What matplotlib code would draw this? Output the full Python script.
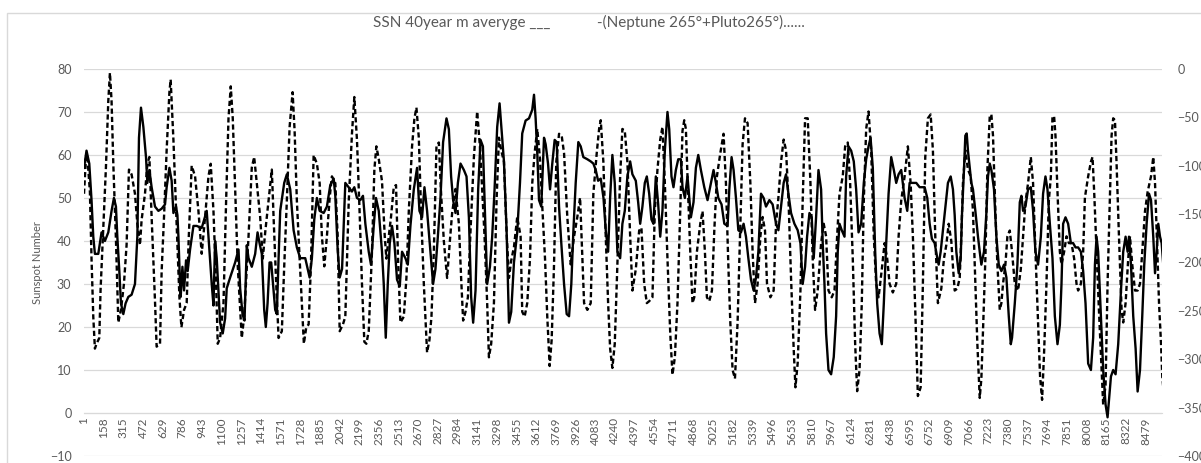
import matplotlib
matplotlib.use("Agg")
import matplotlib.pyplot as plt
from matplotlib.patches import Rectangle

plt.rcParams['font.family'] = ['Lato', 'DejaVu Sans']

# SSN 40 year moving average (left axis) as (category, value)
ssn_x = [1, 21, 43, 61, 75, 88, 115, 141, 168, 195, 221, 240, 256, 267, 283, 296, 315, 333, 355, 381,
         408, 427, 440, 456, 475, 496, 507, 523, 541, 568, 595, 621, 648, 661, 683, 701, 715, 736, 747, 755,
         768, 773, 787, 800, 816, 829, 848, 875, 901, 941, 981, 1021, 1035, 1048, 1061, 1088, 1109, 1128, 1141, 1168,
         1208, 1235, 1248, 1267, 1283, 1301, 1315, 1341, 1368, 1387, 1403, 1421, 1440, 1453, 1467, 1483, 1496, 1515, 1528, 1541,
         1555, 1568, 1600, 1621, 1648, 1675, 1701, 1728, 1768, 1803, 1821, 1840, 1861, 1883, 1915, 1941, 1968, 1995, 2008, 2027,
         2043, 2062, 2088, 2115, 2141, 2160, 2181, 2208, 2229, 2248, 2275, 2293, 2315, 2333, 2355, 2381, 2395, 2411, 2427, 2443,
         2461, 2480, 2501, 2523, 2541, 2568, 2587, 2608, 2635, 2661, 2680, 2701, 2720, 2741, 2768, 2789, 2808, 2827, 2848, 2869,
         2896, 2915, 2933, 2949, 2968, 2987, 3008, 3035, 3056, 3075, 3093, 3109, 3128, 3149, 3168, 3187, 3203, 3221, 3243, 3261,
         3280, 3301, 3320, 3333, 3355, 3376, 3395, 3413, 3435, 3461, 3483, 3501, 3528, 3555, 3581, 3595, 3608, 3621, 3635, 3653,
         3675, 3688, 3707, 3723, 3741, 3760, 3776, 3795, 3813, 3835, 3856, 3875, 3893, 3909, 3928, 3949, 3968, 3989, 4021, 4048,
         4069, 4088, 4107, 4128, 4150, 4168, 4187, 4203, 4221, 4240, 4261, 4283, 4301, 4320, 4341, 4363, 4381, 4408, 4427, 4443,
         4461, 4480, 4496, 4515, 4533, 4549, 4568, 4587, 4603, 4621, 4640, 4661, 4675, 4693, 4709, 4728, 4747, 4768, 4781, 4800,
         4821, 4848, 4869, 4888, 4907, 4928, 4955, 4981, 5008, 5029, 5048, 5067, 5093, 5115, 5141, 5155, 5173, 5189, 5208, 5227,
         5248, 5269, 5288, 5307, 5328, 5349, 5368, 5387, 5408, 5429, 5448, 5475, 5501, 5528, 5547, 5568, 5589, 5608, 5627, 5648,
         5675, 5701, 5723, 5741, 5760, 5776, 5795, 5813, 5829, 5848, 5867, 5888, 5901, 5915, 5928, 5947, 5968, 5989, 6008, 6021,
         6035, 6053, 6075, 6088, 6107, 6128, 6149, 6168, 6187, 6208, 6229, 6248, 6267, 6283, 6301, 6320, 6336, 6355, 6373, 6389,
         6408, 6427, 6448, 6469, 6488, 6507, 6528, 6555, 6576, 6595, 6621, 6648, 6675, 6715, 6736, 6755, 6773, 6795, 6816, 6827,
         6843, 6861, 6880, 6901, 6923, 6941, 6955, 6968, 6987, 7003, 7013, 7029, 7040, 7051, 7061, 7075, 7088, 7101, 7120, 7141,
         7155, 7168, 7189, 7208, 7221, 7235, 7248, 7269, 7288, 7307, 7328, 7349, 7368, 7387, 7403, 7413, 7435, 7456, 7475, 7488,
         7501, 7520, 7541, 7563, 7581, 7600, 7621, 7643, 7661, 7680, 7696, 7715, 7736, 7755, 7776, 7795, 7808, 7821, 7840, 7861,
         7883, 7901, 7920, 7941, 7963, 7981, 8000, 8021, 8043, 8061, 8075, 8088, 8101, 8123, 8141, 8160, 8176, 8187, 8203, 8221,
         8240, 8261, 8283, 8301, 8320, 8336, 8347, 8363, 8381, 8400, 8416, 8435, 8453, 8469, 8488, 8507, 8523, 8541, 8555, 8568,
         8581, 8595, 8608, 8621]
ssn_y = [57, 61, 58, 49.5, 41, 37, 37, 42, 40, 42, 47, 50, 48, 41, 33, 25.5, 23, 25.5, 27, 27.5,
         30, 41, 64, 71, 66.5, 59.5, 53.5, 56.5, 52.5, 48, 47, 47.5, 48.5, 52.5, 57, 54, 46.5, 48, 46, 41,
         30, 27, 34, 28.5, 35.5, 33, 38, 43.5, 43.5, 43, 47, 30, 25, 40, 36, 21, 18.5, 22, 29, 31.5,
         35, 38, 29, 23, 21.5, 39, 36, 34, 37, 42, 39.5, 37, 24, 20, 25.5, 35, 35, 28.5, 24, 23,
         36, 47, 53.5, 55.5, 52, 42.5, 38.5, 36, 36, 31.5, 36, 45, 50, 47, 46.5, 48, 53, 54.5, 50.5, 38,
         31.5, 33.5, 53.5, 52.5, 51.5, 52.5, 50, 49.5, 50.5, 44, 37.5, 34.5, 43.5, 50, 47, 37.5, 30, 17.5, 30, 39.5,
         43.5, 39.5, 31, 29.5, 37.5, 36, 34.5, 43.5, 52, 57, 47, 45.5, 52.5, 47, 37.5, 30, 33.5, 41, 50, 63,
         68.5, 66, 55, 49.5, 46.5, 53.5, 58, 56.5, 55, 45.5, 27, 21, 28.5, 52, 63.5, 62, 47, 30, 34, 41,
         52, 66.5, 72, 67, 58.5, 42.5, 21, 23.5, 35, 42, 53.5, 65, 68, 68.5, 70.5, 74, 68.5, 60.5, 49.5, 48,
         64, 62.5, 58, 52, 58, 63.5, 63, 48, 39.5, 30, 23, 22.5, 30, 42, 53.5, 63, 62, 59.5, 59, 58.5,
         58, 56.5, 54, 54.5, 50, 42.5, 37.5, 50, 60, 53.5, 37.5, 36, 44, 47, 55, 58.5, 55.5, 54, 49, 44,
         48, 53.5, 55, 51, 45, 44, 55, 48.5, 41, 47, 61, 70, 66, 55, 52.5, 56.5, 59, 59, 52.5, 50,
         55, 45.5, 49, 57, 60, 56.5, 52.5, 49.5, 53.5, 56.5, 53.5, 50, 48.5, 44, 43.5, 52, 59.5, 56.5, 50, 42.5,
         42, 44, 41, 36, 31, 28.5, 31.5, 37.5, 51, 50, 48, 49.5, 48.5, 44, 42.5, 48, 53.5, 55.5, 51, 46.5,
         44, 42.5, 39.5, 30, 34, 41, 46.5, 45.5, 36, 45.5, 56.5, 52, 39.5, 30, 18.5, 10, 9, 13, 22.5, 37.5,
         44, 42.5, 41, 55, 62, 61, 58.5, 52, 42, 44, 53.5, 59, 62, 64, 57, 37.5, 25.5, 18.5, 16, 25.5,
         39.5, 51, 59.5, 56.5, 53.5, 55.5, 56.5, 50, 47, 53.5, 53.5, 53.5, 52.5, 52.5, 50, 44, 40.5, 39.5, 36, 34.5,
         37.5, 42.5, 48, 53.5, 55, 52, 46, 37.5, 32.5, 36, 46, 56.5, 64.5, 65, 61, 57, 53.5, 52, 47, 41,
         37.5, 34.5, 37.5, 46.5, 55, 58, 56.5, 52, 41, 34.5, 33, 34.5, 31.5, 22.5, 16, 17.5, 25.5, 34.5, 49, 50.5,
         47, 48, 52, 52.5, 47, 37.5, 34.5, 41, 51, 55, 52, 44, 36, 22.5, 16, 20.5, 30, 44, 45.5, 44,
         39.5, 39.5, 38.5, 38.5, 37.5, 33, 25.5, 11.5, 10, 17.5, 34.5, 41, 37.5, 22.5, 10, 2, -1, 3, 8.5, 10,
         9, 16, 28.5, 37.5, 41, 37.5, 41, 34.5, 22.5, 15, 5, 10, 22.5, 34.5, 44, 51, 49.5, 41, 32.5, 37.5,
         44, 41, 39.5, 34.5]

# -(Neptune 265 + Pluto 265) (right axis) as (category, value)
np_x = [1, 16, 27, 48, 61, 75, 88, 101, 123, 133, 155, 176, 195, 208, 221, 235, 256, 275, 296, 320,
        341, 360, 381, 408, 427, 448, 461, 475, 488, 507, 523, 541, 568, 581, 608, 621, 640, 661, 683, 693,
        715, 741, 763, 779, 800, 821, 837, 861, 888, 915, 941, 968, 995, 1013, 1035, 1056, 1069, 1088, 1115, 1136,
        1155, 1173, 1189, 1208, 1229, 1248, 1261, 1280, 1315, 1341, 1360, 1381, 1408, 1429, 1448, 1475, 1501, 1515, 1536, 1555,
        1581, 1600, 1621, 1643, 1667, 1683, 1701, 1723, 1741, 1757, 1776, 1795, 1813, 1835, 1861, 1883, 1901, 1920, 1941, 1963,
        1981, 2008, 2027, 2043, 2069, 2088, 2115, 2141, 2160, 2181, 2203, 2221, 2240, 2256, 2275, 2301, 2320, 2336, 2355, 2381,
        2403, 2416, 2435, 2453, 2475, 2493, 2509, 2528, 2555, 2576, 2595, 2621, 2640, 2656, 2675, 2693, 2715, 2741, 2760, 2776,
        2795, 2816, 2835, 2853, 2875, 2901, 2923, 2941, 2968, 2995, 3013, 3029, 3048, 3067, 3088, 3115, 3141, 3163, 3181, 3200,
        3221, 3235, 3253, 3275, 3296, 3315, 3333, 3355, 3376, 3395, 3413, 3435, 3461, 3488, 3501, 3520, 3541, 3563, 3581, 3600,
        3621, 3643, 3661, 3683, 3701, 3720, 3736, 3755, 3773, 3795, 3816, 3835, 3861, 3888, 3915, 3941, 3963, 3981, 3995, 4021,
        4048, 4069, 4096, 4115, 4128, 4149, 4168, 4187, 4203, 4221, 4240, 4261, 4283, 4301, 4320, 4341, 4363, 4381, 4408, 4435,
        4453, 4475, 4496, 4515, 4541, 4560, 4581, 4603, 4621, 4640, 4661, 4683, 4701, 4720, 4741, 4763, 4781, 4795, 4808, 4821,
        4843, 4861, 4875, 4896, 4923, 4941, 4960, 4976, 4995, 5016, 5035, 5056, 5083, 5109, 5128, 5147, 5163, 5181, 5200, 5221,
        5243, 5261, 5280, 5301, 5323, 5341, 5360, 5381, 5403, 5421, 5440, 5456, 5483, 5509, 5528, 5547, 5568, 5589, 5608, 5629,
        5648, 5669, 5683, 5701, 5723, 5741, 5760, 5781, 5803, 5821, 5840, 5861, 5888, 5909, 5928, 5947, 5973, 5995, 6016, 6035,
        6061, 6080, 6101, 6120, 6141, 6160, 6176, 6195, 6213, 6229, 6248, 6267, 6288, 6309, 6328, 6347, 6373, 6395, 6416, 6435,
        6461, 6488, 6507, 6528, 6555, 6581, 6603, 6621, 6640, 6661, 6683, 6701, 6720, 6741, 6763, 6781, 6800, 6821, 6848, 6869,
        6888, 6907, 6928, 6941, 6955, 6976, 6995, 7008, 7021, 7040, 7061, 7083, 7101, 7120, 7136, 7155, 7168, 7181, 7200, 7216,
        7235, 7248, 7261, 7280, 7296, 7315, 7328, 7341, 7360, 7376, 7395, 7413, 7435, 7461, 7483, 7501, 7520, 7541, 7563, 7581,
        7600, 7621, 7637, 7653, 7669, 7688, 7707, 7723, 7736, 7749, 7760, 7776, 7795, 7808, 7829, 7848, 7867, 7888, 7909, 7928,
        7941, 7963, 7981, 7995, 8021, 8043, 8056, 8069, 8088, 8107, 8128, 8141, 8160, 8176, 8195, 8208, 8221, 8235, 8248, 8267,
        8288, 8301, 8320, 8341, 8355, 8373, 8395, 8416, 8435, 8453, 8475, 8496, 8523, 8541, 8555, 8568, 8587, 8603, 8613, 8621]
np_y = [-129, -93, -89, -127, -196, -256, -289, -284, -278, -229, -164, -102, -33, -4, -33, -98, -176, -262, -249, -222,
        -182, -104, -109, -129, -160, -182, -156, -142, -129, -98, -91, -153, -240, -287, -284, -209, -153, -84, -24, -11,
        -73, -160, -236, -267, -249, -242, -176, -100, -111, -147, -191, -153, -111, -98, -147, -222, -284, -278, -242, -136,
        -51, -18, -51, -124, -204, -249, -278, -256, -173, -102, -91, -118, -153, -196, -169, -136, -104, -153, -222, -278,
        -271, -204, -136, -60, -24, -64, -136, -196, -242, -284, -267, -264, -204, -89, -98, -118, -173, -204, -173, -133,
        -111, -118, -173, -271, -264, -256, -138, -67, -29, -73, -151, -222, -282, -284, -271, -189, -104, -80, -93, -116,
        -173, -196, -173, -153, -122, -120, -196, -262, -256, -216, -147, -80, -51, -40, -71, -147, -222, -293, -280, -256,
        -189, -80, -76, -129, -178, -216, -178, -149, -124, -160, -216, -260, -251, -236, -167, -91, -44, -80, -124, -173,
        -242, -298, -284, -242, -136, -71, -84, -96, -169, -216, -198, -184, -153, -173, -251, -256, -242, -196, -118, -87,
        -62, -93, -142, -196, -256, -307, -280, -202, -96, -67, -69, -87, -153, -202, -173, -153, -133, -196, -242, -249,
        -242, -129, -87, -62, -53, -96, -173, -242, -289, -309, -284, -202, -111, -62, -64, -96, -173, -229, -207, -167,
        -164, -222, -242, -240, -236, -147, -104, -73, -60, -118, -196, -273, -316, -298, -242, -147, -64, -53, -62, -111,
        -189, -242, -236, -189, -160, -147, -189, -236, -240, -229, -167, -111, -87, -67, -118, -202, -262, -311, -320, -262,
        -160, -78, -51, -56, -118, -189, -242, -222, -173, -153, -167, -222, -236, -229, -160, -133, -96, -73, -84, -140,
        -216, -289, -329, -304, -229, -136, -51, -51, -118, -196, -249, -229, -180, -160, -173, -229, -236, -229, -173, -129,
        -111, -80, -76, -118, -196, -284, -333, -311, -242, -136, -62, -44, -84, -173, -222, -236, -207, -180, -196, -222,
        -231, -222, -173, -136, -111, -80, -118, -173, -249, -338, -329, -222, -91, -51, -47, -84, -173, -242, -227, -196,
        -182, -160, -178, -204, -229, -227, -216, -173, -118, -84, -104, -111, -147, -222, -284, -340, -320, -271, -196, -104,
        -49, -47, -69, -147, -202, -249, -242, -222, -202, -173, -167, -189, -222, -229, -207, -173, -138, -118, -91, -118,
        -189, -262, -318, -342, -293, -222, -136, -111, -49, -49, -69, -127, -189, -202, -189, -173, -180, -180, -196, -222,
        -229, -222, -189, -133, -111, -96, -91, -127, -189, -249, -311, -347, -327, -222, -133, -69, -51, -53, -98, -173,
        -249, -262, -242, -196, -173, -202, -229, -229, -222, -189, -147, -127, -111, -91, -118, -167, -242, -284, -318, -329]

labels = list(range(1, 8480, 157))
n_cat = 8610

fig = plt.figure(figsize=(12.01, 4.63), dpi=100)
fig.patches.append(Rectangle((0.006, -0.02), 1.0, 0.993, transform=fig.transFigure,
                             fill=False, edgecolor='#d9d9d9', lw=1))
ax = fig.add_axes([0.0699, 0.0151, 0.8976, 0.836])
ax2 = ax.twinx()

grey = '#595959'
# category axis crosses at y = 0, like Excel
ax.spines['bottom'].set_position(('data', 0))
ax.spines['bottom'].set_color('#d9d9d9')
for s in ['top', 'right', 'left']:
    ax.spines[s].set_visible(False)

ax.set_ylim(-10, 80)
ax.set_yticks(range(-10, 81, 10))
ax.grid(axis='y', color='#d9d9d9', lw=0.9)
ax.set_axisbelow(True)
ax.set_xlim(0.5, n_cat + 0.5)
ax.set_xticks(labels)
ax.set_xticklabels([str(v) for v in labels], rotation=90, fontsize=8.5, color=grey)
ax.tick_params(axis='x', length=0, pad=3)
ax.tick_params(axis='y', length=0, labelsize=9, colors=grey, pad=9)
ax.set_ylabel('Sunspot Number', fontsize=8, color=grey, labelpad=5)

ax.plot(ssn_x, ssn_y, color='black', lw=1.7, zorder=3)

ax2.set_ylim(-400, 0)
ax2.set_yticks(range(-400, 1, 50))
ax2.tick_params(axis='y', length=0, labelsize=9, colors=grey, pad=11)
for s in ax2.spines.values():
    s.set_visible(False)
ax2.plot(np_x, np_y, color='black', lw=1.7, linestyle=(0, (2.2, 1.3)), zorder=2)

fig.text(0.49, 0.952, 'SSN 40year m averyge ___            -(Neptune 265°+Pluto265°)......',
         ha='center', va='center', fontsize=11, color=grey)

fig.savefig('out.png', dpi=100)
